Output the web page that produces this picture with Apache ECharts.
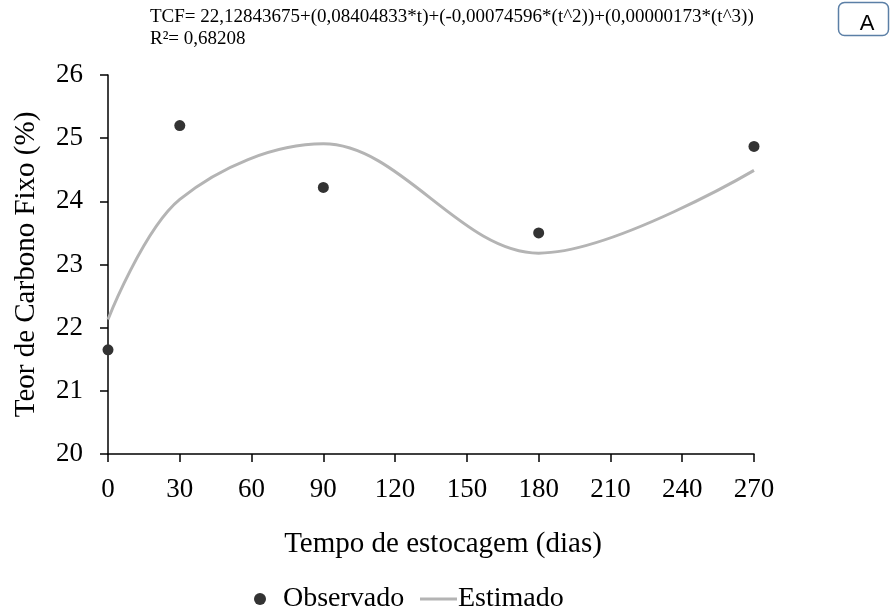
<!DOCTYPE html>
<html><head><meta charset="utf-8">
<script src="https://cdn.jsdelivr.net/npm/echarts@6/dist/echarts.min.js"></script>
<style>html,body{margin:0;padding:0;background:#fff}#c{width:890px;height:614px}</style>
</head><body><div id="c"></div>
<script>
var days = [0, 30, 90, 180, 270];
var observed = [21.65, 25.2, 24.22, 23.5, 24.87];
var estimated = [22.13, 24.03, 24.91, 23.18, 24.49];
var xTicks = [0, 30, 60, 90, 120, 150, 180, 210, 240, 270];
var yTicks = [20, 21, 22, 23, 24, 25, 26];
var equation = 'TCF= 22,12843675+(0,08404833*t)+(-0,00074596*(t^2))+(0,00000173*(t^3))';
var r2 = 'R²= 0,68208';

var serif = '"Liberation Serif","Times New Roman",serif';
var chart = echarts.init(document.getElementById('c'));
chart.setOption({
  animation: false,
  grid: {left: 108, right: 136, top: 75, bottom: 160},
  graphic: [
    {type: 'text', left: 150, top: 8, style: {text: equation, fontFamily: serif, fontSize: 19, fill: '#000'}},
    {type: 'text', left: 150, top: 30, style: {text: r2, fontFamily: serif, fontSize: 19, fill: '#000'}},
    {type: 'rect', shape: {x: 838.5, y: 2.5, width: 50, height: 33, r: 6}, style: {fill: '#fff', stroke: '#5b7fa6', lineWidth: 1.5}},
    {type: 'text', x: 867, y: 24, style: {text: 'A', fontFamily: '"Liberation Sans",Arial,sans-serif', fontSize: 22, fill: '#000', align: 'center', verticalAlign: 'middle'}}
  ],
  legend: [
    {
      left: 249, top: 580, itemWidth: 12, itemHeight: 12, itemGap: 0,
      textStyle: {fontFamily: serif, fontSize: 28, color: '#000', padding: [0, 0, 0, 12]},
      data: [{name: 'Observado', icon: 'circle'}]
    },
    {
      left: 415, top: 580, itemWidth: 37, itemHeight: 3, itemGap: 0,
      textStyle: {fontFamily: serif, fontSize: 28, color: '#000', padding: [0, 0, 0, -4]},
      data: [{name: 'Estimado', icon: 'rect'}]
    }
  ],
  xAxis: {
    type: 'value', min: 0, max: 270, interval: 30,
    name: 'Tempo de estocagem (dias)', nameLocation: 'middle', nameGap: 76,
    nameTextStyle: {fontFamily: serif, fontSize: 29, color: '#000', padding: [0, 0, 0, 24]},
    axisLine: {show: true, lineStyle: {color: '#000', width: 1.5}},
    axisTick: {show: true, length: 8, lineStyle: {color: '#000', width: 1.5}},
    axisLabel: {fontFamily: serif, fontSize: 27, color: '#000', margin: 22,
      formatter: function (v) { return xTicks.indexOf(v) >= 0 ? String(v) : ''; }},
    splitLine: {show: false}
  },
  yAxis: {
    type: 'value', min: 20, max: 26, interval: 1,
    name: 'Teor de Carbono Fixo (%)', nameLocation: 'middle', nameGap: 67,
    nameTextStyle: {fontFamily: serif, fontSize: 29, color: '#000'},
    axisLine: {show: true, lineStyle: {color: '#000', width: 1.5}},
    axisTick: {show: true, length: 8, lineStyle: {color: '#000', width: 1.5}},
    axisLabel: {fontFamily: serif, fontSize: 27, color: '#000', margin: 25,
      formatter: function (v) { return yTicks.indexOf(v) >= 0 ? String(v) : ''; }},
    splitLine: {show: false}
  },
  series: [
    {name: 'Estimado', type: 'line', smooth: 0.35, symbol: 'none',
      data: days.map(function (d, i) { return [d, estimated[i]]; }),
      lineStyle: {color: '#b4b4b4', width: 3}, itemStyle: {color: '#b4b4b4'}, z: 2},
    {name: 'Observado', type: 'scatter', symbol: 'circle', symbolSize: 11,
      data: days.map(function (d, i) { return [d, observed[i]]; }),
      itemStyle: {color: '#333333', opacity: 1}, z: 3}
  ]
});
</script></body></html>
